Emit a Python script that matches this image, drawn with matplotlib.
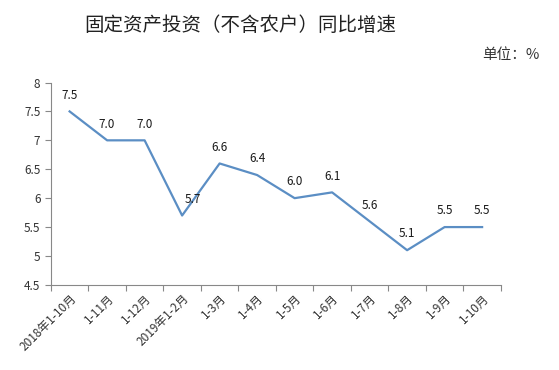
import matplotlib.pyplot as plt
import numpy as np

plt.rcParams['font.family'] = ['Noto Sans CJK SC', 'DejaVu Sans']

months = ["2018年1-10月", "1-11月", "1-12月", "2019年1-2月", "1-3月", "1-4月",
          "1-5月", "1-6月", "1-7月", "1-8月", "1-9月", "1-10月"]
growth = [7.5, 7.0, 7.0, 5.7, 6.6, 6.4, 6.0, 6.1, 5.6, 5.1, 5.5, 5.5]

fig = plt.figure(figsize=(5.59, 3.70), dpi=100)
ax = fig.add_axes([0.091, 0.23, 0.805, 0.547])

x = np.arange(len(months))
ax.plot(x, growth, color="#5b8ec4", lw=1.6)

for i, v in enumerate(growth):
    dx = 8 if i == 3 else 0
    ax.annotate(f"{v:.1f}", (i, v), xytext=(dx, 7), textcoords="offset points",
                ha="center", va="bottom", fontsize=8.5, color="#1a1a1a")

ax.set_xlim(-0.5, len(months) - 0.5)
ax.set_ylim(4.5, 8)
ax.set_yticks(np.arange(4.5, 8.01, 0.5))
ax.set_yticklabels(["4.5", "5", "5.5", "6", "6.5", "7", "7.5", "8"])
ax.set_xticks(np.arange(-0.5, len(months), 1), minor=False)
ax.set_xticklabels([])
ax.set_xticks(x, minor=True)
ax.set_xticklabels(months, minor=True, rotation=45, ha="right", va="top",
                   rotation_mode="anchor", fontsize=8.5, color="#333333")
ax.tick_params(axis="x", which="major", length=4, color="#888888")
ax.tick_params(axis="x", which="minor", length=0, pad=5)
ax.tick_params(axis="y", length=4, color="#888888", labelsize=8.5, labelcolor="#333333")

for s in ["top", "right"]:
    ax.spines[s].set_visible(False)
for s in ["left", "bottom"]:
    ax.spines[s].set_color("#888888")

fig.text(0.43, 0.93, "固定资产投资（不含农户）同比增速", ha="center", va="center",
         fontsize=14, color="#222222")
fig.text(0.965, 0.85, "单位：%", ha="right", va="center", fontsize=10.5, color="#333333")

plt.savefig("out.png")
